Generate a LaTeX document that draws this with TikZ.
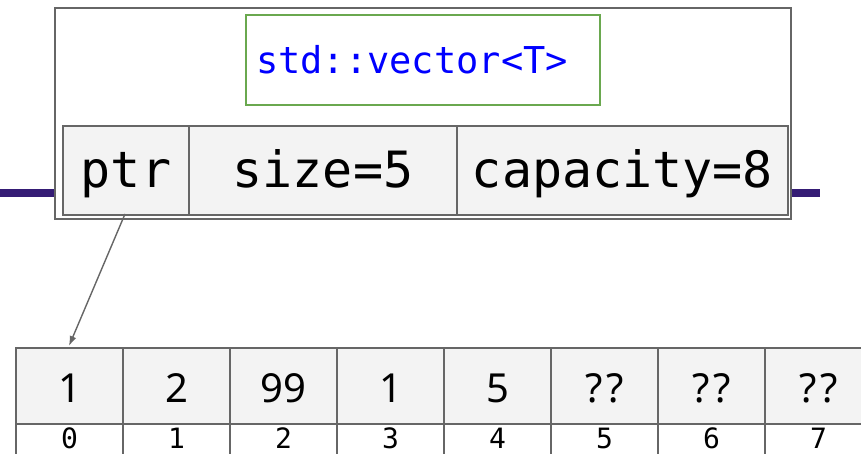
\documentclass[tikz,border=0pt]{standalone}
\usepackage{fontspec}
\usetikzlibrary{arrows.meta}
\newfontfamily\monofont{DejaVu Sans Mono}
\newfontfamily\numfont{Noto Sans}
\definecolor{cellfill}{HTML}{F3F3F3}
\definecolor{edge}{HTML}{666666}
\definecolor{grn}{HTML}{6AA84F}
\definecolor{purp}{HTML}{351C75}
\begin{document}
\begin{tikzpicture}[x=1pt,y=-1pt,
  cell/.style={draw=edge,line width=2pt,fill=cellfill,inner sep=0pt,anchor=north west},
  idx/.style={draw=edge,line width=2pt,fill=white,inner sep=0pt,anchor=north west,minimum width=107pt,minimum height=31pt,text height=20pt,text depth=3pt,font=\monofont\fontsize{28}{28}\selectfont},
  big/.style={cell,minimum width=107pt,minimum height=76pt,text height=40pt,text depth=7pt,font=\numfont\fontsize{40}{40}\selectfont},
  fld/.style={cell,minimum height=89pt,text height=40pt,text depth=5pt,font=\monofont\fontsize{50}{50}\selectfont}]
\useasboundingbox (0,0) rectangle (861,454);
% purple line
\draw[purp,line width=8pt] (0,193) -- (820,193);
% outer struct box
\node[draw=edge,line width=2pt,fill=white,inner sep=0pt,anchor=north west,minimum width=736pt,minimum height=211pt] (outer) at (54,7) {};
\node[draw=grn,line width=2pt,fill=white,inner sep=0pt,anchor=north west,minimum width=354pt,minimum height=90pt] (title) at (245,14) {};
\node[text=blue,font=\monofont\fontsize{37}{37}\selectfont,inner sep=0pt] (titletext) at ([xshift=-11pt]title.center) {std::vector<T>};
\node[fld,minimum width=126pt] (ptr) at (62,125) {ptr};
\node[fld,minimum width=268pt] (size) at (188,125) {size=5};
\node[fld,minimum width=331pt] (cap) at (456,125) {capacity=8};
% array
\foreach \v [count=\i from 0] in {1,2,99,1,5,?\kern4pt?,?\kern4pt?,?\kern4pt?} {
  \node[big] (c\i) at (15+107*\i,347) {\v};
  \node[idx] (d\i) at (15+107*\i,423) {\i};
}
\coordinate (ptrfoot) at (125,214);
\coordinate (ptrtip) at (69,346);
\draw[edge,line width=1.4pt,-{Latex[length=10pt,width=7pt]}] (ptrfoot) -- (ptrtip);
\end{tikzpicture}
\end{document}
